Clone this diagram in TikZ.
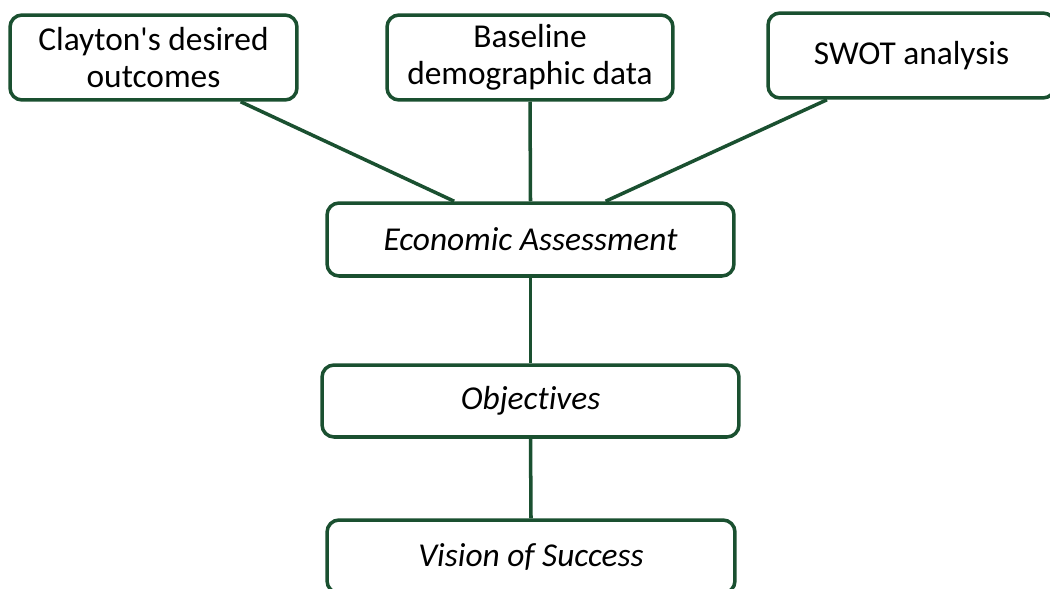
\documentclass[tikz,border=0pt]{standalone}
\usepackage{fontspec}
\setmainfont{Carlito}[Ligatures={TeX,NoCommon}]
\usepackage{tikz}
\usetikzlibrary{positioning,calc}

\definecolor{boxgreen}{RGB}{26,80,48}

\begin{document}
\begin{tikzpicture}[
  x=0.02cm, y=-0.02cm,
  every node/.style={
    draw=boxgreen, rounded corners=0.24cm, align=center,
    font=\fontsize{19}{21}\selectfont, line width=2pt,
    inner sep=0pt, fill=white
  },
  link/.style={draw=boxgreen, line width=2pt}
]
\useasboundingbox (0,0) rectangle (1050,588);

% inputs along the top
\node[minimum width=5.74cm, minimum height=1.7cm] (outcomes) at (153.5,57.5)
  {Clayton\textquotesingle s desired\\outcomes};
\node[minimum width=5.72cm, minimum height=1.7cm] (baseline) at (530,57.5)
  {Baseline\\demographic data};
\node[minimum width=5.74cm, minimum height=1.7cm] (swot) at (911.5,55.5)
  {SWOT analysis};

% the chain down the middle
\node[minimum width=8.14cm, minimum height=1.46cm] (econ) at (530.5,239.5)
  {\itshape Economic Assessment};
\node[minimum width=8.34cm, minimum height=1.44cm] (objectives) at (530.5,401)
  {\itshape Objectives};
\node[minimum width=8.16cm, minimum height=1.46cm] (vision) at (531,556.5)
  {\itshape Vision of Success};

\draw[link] ($(outcomes.south west)!.8!(outcomes.south east)$)
  -- ($(econ.north west)!.314!(econ.north east)$);
\draw[link] (baseline.south) -- (econ.north);
\draw[link] ($(swot.south west)!.209!(swot.south east)$)
  -- ($(econ.north west)!.683!(econ.north east)$);
\draw[link] (econ.south) -- (objectives.north);
\draw[link] (objectives.south) -- (vision.north);
\end{tikzpicture}
\end{document}
